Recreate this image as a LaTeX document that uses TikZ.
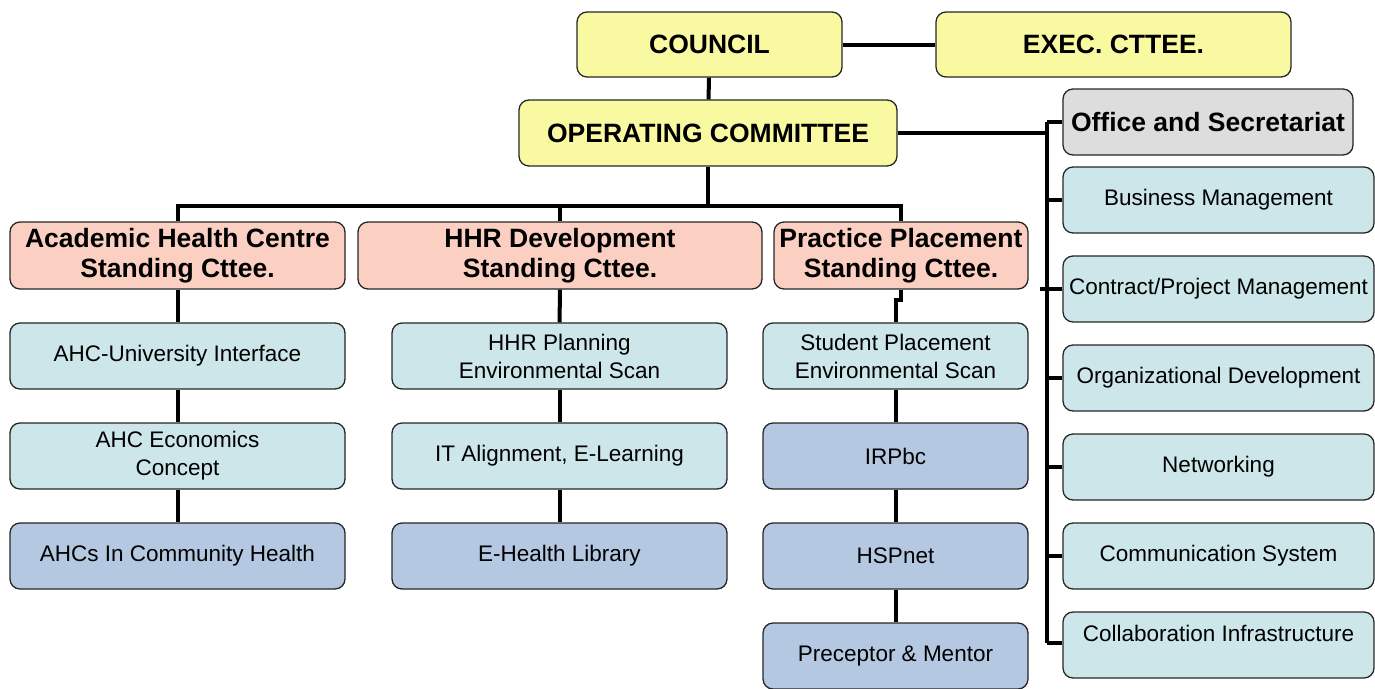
\documentclass[tikz,border=0pt]{standalone}
\usepackage{fontspec}
\setmainfont{Liberation Sans}
\definecolor{jaune}{HTML}{F9F9A2}
\definecolor{rose}{HTML}{FBD0C2}
\definecolor{cyan}{HTML}{CDE6EA}
\definecolor{bleu}{HTML}{B4C8E1}
\definecolor{gris}{HTML}{DDDDDD}
\begin{document}
\begin{tikzpicture}[x=1pt, y=-1pt,
	boite/.style={draw=black!85, line width=1.3pt, rounded corners=10pt, align=center, inner sep=2pt},
	chef/.style={boite, font=\fontsize{26.5}{30}\selectfont\bfseries},
	sous/.style={boite, font=\fontsize{22.5}{28}\selectfont, minimum height=66pt},
	lien/.style={draw, line width=4pt}]
	\useasboundingbox (0,0) rectangle (1375,688);

	% haut
	\node[chef, fill=jaune, minimum width=265pt, minimum height=65pt] (council) at (709.5,44.5) {COUNCIL};
	\node[chef, fill=jaune, minimum width=355pt, minimum height=65pt] (exec) at (1113.5,44.5) {EXEC. CTTEE.};
	\node[chef, fill=jaune, minimum width=378pt, minimum height=66pt] (opcom) at (708,133) {OPERATING COMMITTEE};

	% comites permanents
	\node[chef, fill=rose, minimum width=335pt, minimum height=67pt] (ahc) at (177.5,255.5) {Academic Health Centre\\Standing Cttee.};
	\node[chef, fill=rose, minimum width=404pt, minimum height=67pt] (hhr) at (560,255.5) {HHR Development\\Standing Cttee.};
	\node[chef, fill=rose, minimum width=254pt, minimum height=67pt] (ppl) at (901,255.5) {Practice Placement\\Standing Cttee.};

	% colonne 1
	\node[sous, fill=cyan, minimum width=335pt] (ahcuni) at (177.5,356) {AHC-University Interface};
	\node[sous, fill=cyan, minimum width=335pt] (ahceco) at (177.5,456) {AHC Economics\\Concept};
	\node[sous, fill=bleu, minimum width=335pt] (ahccom) at (177.5,556) {AHCs In Community Health};

	% colonne 2
	\node[sous, fill=cyan, minimum width=335pt] (hhrplan) at (559.5,356) {HHR Planning\\Environmental Scan};
	\node[sous, fill=cyan, minimum width=335pt] (hhrit) at (559.5,456) {IT Alignment, E-Learning};
	\node[sous, fill=bleu, minimum width=335pt] (hhrlib) at (559.5,556) {E-Health Library};

	% colonne 3
	\node[sous, fill=cyan, minimum width=265pt] (spe) at (895.5,356) {Student Placement\\Environmental Scan};
	\node[sous, fill=bleu, minimum width=265pt] (irp) at (895.5,456) {IRPbc};
	\node[sous, fill=bleu, minimum width=265pt] (hsp) at (895.5,556) {HSPnet};
	\node[sous, fill=bleu, minimum width=265pt] (prec) at (895.5,656) {Preceptor \& Mentor};

	% secretariat
	\node[chef, fill=gris, minimum width=290pt, minimum height=66pt] (office) at (1208,122) {Office and Secretariat};
	\node[sous, fill=cyan, minimum width=311pt] (biz) at (1218.5,200) {Business Management};
	\node[sous, fill=cyan, minimum width=311pt] (contract) at (1218.5,289) {Contract/Project Management};
	\node[sous, fill=cyan, minimum width=311pt] (org) at (1218.5,378) {Organizational Development};
	\node[sous, fill=cyan, minimum width=311pt] (net) at (1218.5,467) {Networking};
	\node[sous, fill=cyan, minimum width=311pt] (comm) at (1218.5,556) {Communication System};
	\node[sous, fill=cyan, minimum width=311pt, text depth=24pt] (collab) at (1218.5,645) {Collaboration Infrastructure};

	\coordinate (split) at (708,206);
	\coordinate (bus) at (1047,133);

	\path (council) edge[lien] (exec);
	\path (council) edge[lien] (opcom);
	\path[lien] (opcom.south) -- (split);
	\path[lien] (ahc.north) |- (split) -| (ppl.north);
	\path[lien] (hhr.north) -- (hhr.north |- split);

	\path (ahc) edge[lien] (ahcuni);
	\path (ahcuni) edge[lien] (ahceco);
	\path (ahceco) edge[lien] (ahccom);
	\path (hhr) edge[lien] (hhrplan);
	\path (hhrplan) edge[lien] (hhrit);
	\path (hhrit) edge[lien] (hhrlib);
	\path[lien] (ppl.south) -- ++(0,10) -| (spe.north);
	\path (spe) edge[lien] (irp);
	\path (irp) edge[lien] (hsp);
	\path (hsp) edge[lien] (prec);

	\path[lien] (opcom.east) -- (bus);
	\path[lien] (bus |- office.west) -- (bus |- 0,643);
	\path[lien] (bus |- office.west) -- (office.west);
	\path[lien] (bus |- biz.west) -- (biz.west);
	\path[lien] (bus |- contract.west) ++(-7,0) -- (contract.west);
	\path[lien] (bus |- org.west) -- (org.west);
	\path[lien] (bus |- net.west) -- (net.west);
	\path[lien] (bus |- comm.west) -- (comm.west);
	\path[lien] (bus |- 0,643) -- (collab.west |- 0,643);

\end{tikzpicture}
\end{document}
